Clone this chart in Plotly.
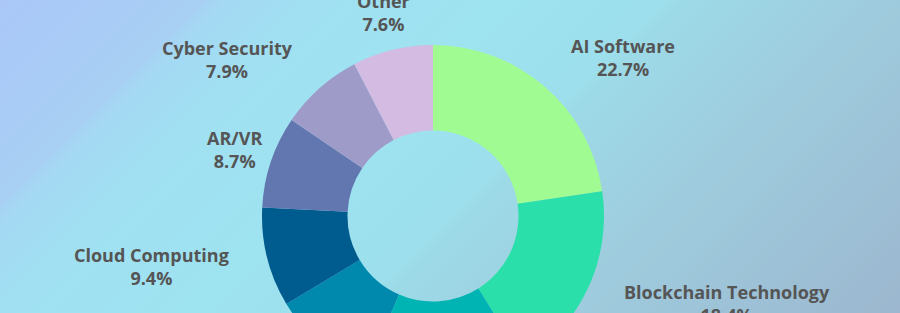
import base64
import math
import plotly.graph_objects as go

labels = ["AI Software", "Blockchain Technology", "Robotics", "Internet of Things",
          "Cloud Computing", "AR/VR", "Cyber Security", "Other"]
shares = [22.7, 18.4, 15.4, 9.9, 9.4, 8.7, 7.9, 7.6]
colors = ["#a0fc92", "#2bdfaa", "#00b4b4", "#0089ad", "#005b8f", "#6277b0", "#9f9bc9", "#d3bbe2"]
# label alignment style: "side" = text edge at anchor point, "center" = centred on it
label_align = ["side", "side", "side", "side", "side", "center", "side", "center"]

# figure geometry (pixels)
W, H = 900, 432
CX, CY, R = 433, 216, 171
LABEL_R = 209

# background gradient stops along the x+y diagonal (pixel distance, colour)
T_MAX = 1213.0
bg_stops = [(0, "#aac7f8"), (200, "#a8cff4"), (228, "#a4d9f3"), (320, "#a0e0f2"),
            (500, "#9ee3f0"), (665, "#9ddfec"), (685, "#9ddae7"), (890, "#9ecbdd"),
            (1213, "#9cb7cf")]
stops_svg = "".join(f'<stop offset="{t / T_MAX:.4f}" stop-color="{c}"/>' for t, c in bg_stops)

svg = f'''<svg xmlns="http://www.w3.org/2000/svg" width="{W}" height="{H}" viewBox="0 0 {W} {H}" preserveAspectRatio="none">
<defs>
<linearGradient id="g2" gradientUnits="userSpaceOnUse" x1="0" y1="0" x2="{T_MAX / 2}" y2="{T_MAX / 2}" spreadMethod="pad">
{stops_svg}
</linearGradient></defs>
<rect x="0" y="0" width="{W}" height="{H}" fill="url(#g2)"/>
</svg>'''
src = "data:image/svg+xml;base64," + base64.b64encode(svg.encode()).decode()

fig = go.Figure(go.Pie(
    labels=labels,
    values=shares,
    hole=0.5,
    sort=False,
    direction="clockwise",
    rotation=0,
    marker=dict(colors=colors, line=dict(width=0)),
    textinfo="none",
    hoverinfo="label+percent",
    showlegend=False,
    domain=dict(x=[(CX - R) / W, (CX + R) / W], y=[(H - CY - R) / H, (H - CY + R) / H]),
))

# outside labels, positioned along each slice's mid-angle
total = sum(shares)
cum = 0.0
annotations = []
for lab, val, al in zip(labels, shares, label_align):
    mid = (cum + val / 2) / total * 2 * math.pi
    cum += val
    px = CX + LABEL_R * math.sin(mid)
    py = CY - LABEL_R * math.cos(mid)
    if al == "side":
        xa = "left" if math.sin(mid) > 0 else "right"
    else:
        xa = "center"
    annotations.append(dict(
        x=px / W, y=1 - py / H, xref="paper", yref="paper",
        text=f"{lab}<br>{val / total * 100:.1f}%",
        showarrow=False, xanchor=xa, yanchor="middle", align="center",
        font=dict(family="Open Sans", size=18, color="#555555", weight="bold"),
        borderpad=0,
    ))

fig.update_layout(
    width=W, height=H,
    margin=dict(l=0, r=0, t=0, b=0),
    paper_bgcolor="rgba(0,0,0,0)",
    plot_bgcolor="rgba(0,0,0,0)",
    annotations=annotations,
    images=[dict(source=src, xref="paper", yref="paper", x=0, y=1, sizex=1, sizey=1,
                 xanchor="left", yanchor="top", sizing="stretch", layer="below")],
)

fig.write_html("out.html", post_script="document.body.style.margin='0';document.body.style.overflow='hidden';")
